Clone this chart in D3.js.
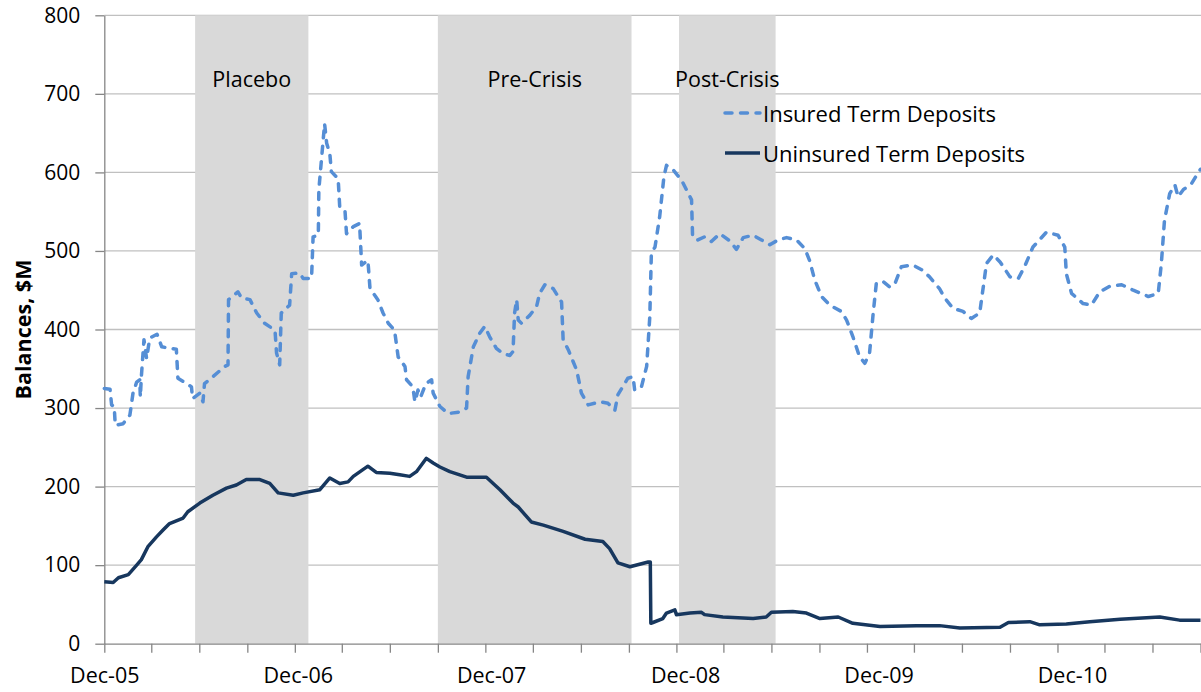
<!DOCTYPE html>
<html>
<head>
<meta charset="utf-8">
<script src="https://cdn.jsdelivr.net/npm/d3@7"></script>
<style>
  body { margin: 0; background: #fff; }
  svg { display: block; }
</style>
</head>
<body>
<svg id="chart" width="1201" height="692"></svg>
<script>
// ---- data ----
const insuredDates = [
  "2005-12-01","2005-12-12","2005-12-15","2005-12-20","2005-12-22","2006-01-06","2006-01-19","2006-01-25",
  "2006-02-01","2006-02-07","2006-02-08","2006-02-10","2006-02-15","2006-02-20","2006-02-26","2006-03-12",
  "2006-03-21","2006-04-05","2006-04-18","2006-04-21","2006-05-08","2006-05-17","2006-05-19","2006-06-02",
  "2006-06-08","2006-06-11","2006-06-27","2006-07-20","2006-07-26","2006-07-27","2006-08-14","2006-08-21",
  "2006-09-06","2006-09-19","2006-10-04","2006-10-24","2006-10-27","2006-11-02","2006-11-05","2006-11-21",
  "2006-11-25","2006-12-10","2006-12-17","2007-01-02","2007-01-05","2007-01-15","2007-01-16","2007-01-21",
  "2007-01-27","2007-01-31","2007-02-06","2007-02-09","2007-02-22","2007-02-25","2007-03-07","2007-03-10",
  "2007-03-23","2007-04-04","2007-04-08","2007-04-20","2007-04-24","2007-05-09","2007-05-19","2007-05-29",
  "2007-06-10","2007-06-17","2007-06-30","2007-07-03","2007-07-15","2007-07-19","2007-07-25","2007-07-30",
  "2007-08-09","2007-08-20","2007-08-23","2007-09-05","2007-09-21","2007-10-13","2007-10-26","2007-10-29",
  "2007-11-08","2007-11-20","2007-11-30","2007-12-09","2007-12-22","2008-01-04","2008-01-17","2008-01-23",
  "2008-01-26","2008-01-30","2008-02-02","2008-02-08","2008-02-24","2008-03-08","2008-03-14","2008-03-24",
  "2008-04-09","2008-04-25","2008-04-28","2008-05-08","2008-05-24","2008-06-02","2008-06-15","2008-07-07",
  "2008-07-23","2008-08-05","2008-08-11","2008-08-30","2008-09-09","2008-09-12","2008-09-25","2008-10-05",
  "2008-10-11","2008-10-14","2008-10-21","2008-10-30","2008-11-07","2008-11-12","2008-11-25","2008-12-11",
  "2008-12-30","2009-01-01","2009-01-11","2009-01-24","2009-02-06","2009-02-22","2009-03-13","2009-03-26",
  "2009-04-08","2009-04-27","2009-05-13","2009-05-29","2009-06-14","2009-06-30","2009-07-19","2009-08-04",
  "2009-08-13","2009-08-23","2009-09-05","2009-09-21","2009-10-13","2009-10-23","2009-11-04","2009-11-17",
  "2009-11-27","2009-12-06","2009-12-13","2009-12-19","2010-01-01","2010-01-14","2010-01-24","2010-02-05",
  "2010-02-27","2010-03-16","2010-03-31","2010-04-19","2010-04-29","2010-05-15","2010-06-03","2010-06-19",
  "2010-07-05","2010-07-18","2010-07-31","2010-08-13","2010-09-01","2010-09-17","2010-09-29","2010-10-15",
  "2010-11-10","2010-12-02","2010-12-15","2010-12-18","2010-12-28","2011-01-19","2011-02-04","2011-02-20",
  "2011-03-11","2011-04-03","2011-04-25","2011-05-24","2011-06-12","2011-06-18","2011-06-24","2011-07-04",
  "2011-07-14","2011-07-20","2011-07-30","2011-08-15","2011-08-27","2011-09-01"
];
const insuredValues = [
  325, 324, 304, 302, 278, 280, 291, 319,
  333, 336, 314, 340, 387, 363, 389, 394,
  378, 376, 375, 338, 331, 327, 312, 319,
  308, 331, 340, 353, 355, 438, 448, 440,
  438, 421, 408, 399, 370, 355, 421, 431,
  471, 472, 465, 465, 518, 520, 578, 616,
  662, 637, 624, 601, 592, 556, 552, 522,
  531, 535, 482, 488, 452, 438, 421, 408,
  399, 365, 353, 336, 327, 308, 323, 314,
  331, 336, 319, 302, 293, 295, 300, 340,
  378, 395, 404, 391, 376, 369, 367, 372,
  421, 438, 412, 408, 418, 429, 446, 457,
  452, 435, 387, 374, 348, 319, 304, 308,
  306, 297, 317, 338, 340, 323, 327, 353,
  416, 497, 505, 544, 594, 609, 603, 590,
  565, 518, 514, 518, 512, 522, 513, 502,
  517, 520, 514, 508, 514, 517, 514, 503,
  488, 463, 442, 431, 423, 412, 391, 365,
  357, 370, 421, 459, 461, 454, 459, 480,
  482, 476, 467, 452, 440, 427, 423, 414,
  421, 484, 495, 486, 467, 465, 480, 505,
  524, 520, 505, 471, 446, 433, 431, 448,
  455, 457, 450, 442, 446, 484, 539, 573,
  584, 569, 578, 586, 599, 604
];

const uninsuredDates = [
  "2005-12-01","2005-12-18","2005-12-28","2006-01-16","2006-02-01","2006-02-10","2006-02-23","2006-03-11",
  "2006-03-24","2006-04-05","2006-05-01","2006-05-10","2006-06-02","2006-06-27","2006-07-23","2006-08-11",
  "2006-08-30","2006-09-25","2006-10-14","2006-10-30","2006-11-28","2006-12-17","2007-01-18","2007-02-06",
  "2007-02-25","2007-03-13","2007-03-23","2007-04-20","2007-05-06","2007-06-01","2007-06-20","2007-07-09",
  "2007-07-22","2007-08-10","2007-08-23","2007-09-05","2007-09-24","2007-10-26","2007-12-03","2007-12-29",
  "2008-01-23","2008-02-02","2008-02-27","2008-03-21","2008-04-28","2008-06-09","2008-07-13","2008-07-26",
  "2008-08-11","2008-09-03","2008-10-08","2008-10-12","2008-10-13","2008-10-17","2008-11-05","2008-11-12",
  "2008-11-28","2008-12-01","2008-12-27","2009-01-18","2009-01-24","2009-02-28","2009-04-27","2009-05-22",
  "2009-06-01","2009-07-12","2009-08-07","2009-09-02","2009-10-07","2009-11-04","2009-12-26","2010-03-06",
  "2010-04-19","2010-05-28","2010-08-13","2010-08-29","2010-10-09","2010-10-28","2010-12-18","2011-02-01",
  "2011-03-31","2011-06-15","2011-07-23","2011-09-01"
];
const uninsuredValues = [
  79, 78, 84, 88, 100, 107, 124, 136,
  145, 153, 160, 168, 179, 189, 198, 202,
  209, 209, 204, 192, 189, 192, 196, 211,
  204, 206, 213, 226, 218, 217, 215, 213,
  219, 236, 230, 225, 219, 212, 212, 196,
  179, 174, 155, 151, 143, 133, 130, 121,
  103, 98, 104, 104, 26, 27, 32, 39,
  43, 37, 39, 40, 37, 34, 32, 34,
  40, 41, 39, 32, 34, 26, 22, 23,
  23, 20, 21, 27, 28, 24, 25, 28,
  31, 34, 30, 30
];

const periodNames = ["Placebo", "Pre-Crisis", "Post-Crisis"];
const periodStarts = ["2006-05-24", "2007-09-01", "2008-12-06"];
const periodEnds = ["2006-12-27", "2008-09-06", "2009-06-09"];

const seriesNames = ["Insured Term Deposits", "Uninsured Term Deposits"];
const yTicks = [0, 100, 200, 300, 400, 500, 600, 700, 800];
const xStart = "2005-12-01", xEnd = "2011-09-01";

// ---- layout ----
const W = 1201, H = 692;
const margin = { top: 15.3, right: 0.5, bottom: 48.3, left: 104.3 };
const font = "'Open Sans', 'Noto Sans', sans-serif";
const insuredColor = "#558ed5", uninsuredColor = "#17375e";

const parse = d3.timeParse("%Y-%m-%d");

const x = d3.scaleTime()
    .domain([parse(xStart), parse(xEnd)])
    .range([margin.left, W - margin.right]);

const y = d3.scaleLinear()
    .domain([0, 800])
    .range([H - margin.bottom, margin.top]);

const insured = insuredDates.map((d, i) => ({ date: parse(d), value: insuredValues[i] }));
const uninsured = uninsuredDates.map((d, i) => ({ date: parse(d), value: uninsuredValues[i] }));
const periods = periodNames.map((n, i) => ({ name: n, start: parse(periodStarts[i]), end: parse(periodEnds[i]) }));

const svg = d3.select("#chart");

// gridlines
svg.append("g")
    .selectAll("line")
    .data(yTicks.slice(1))
    .join("line")
    .attr("x1", margin.left)
    .attr("x2", W)
    .attr("y1", d => y(d))
    .attr("y2", d => y(d))
    .attr("stroke", "#c0c0c0")
    .attr("stroke-width", 1.3);

// shaded periods (drawn over the grid)
svg.append("g")
    .selectAll("rect")
    .data(periods)
    .join("rect")
    .attr("x", d => x(d.start))
    .attr("width", d => x(d.end) - x(d.start))
    .attr("y", y(800))
    .attr("height", y(0) - y(800))
    .attr("fill", "#d9d9d9");

// y axis
const yAxis = svg.append("g")
    .attr("transform", `translate(${margin.left},0)`)
    .call(d3.axisLeft(y).tickValues(yTicks).tickSize(9).tickSizeOuter(0).tickPadding(15));
yAxis.select(".domain").attr("stroke", "#868686").attr("stroke-width", 1.3);
yAxis.selectAll(".tick line").attr("stroke", "#868686").attr("stroke-width", 1.3);
yAxis.selectAll("text")
    .attr("font-family", font)
    .attr("font-size", 21)
    .attr("fill", "#000");

// x axis: quarterly ticks, labels on December
const xTicks = d3.timeMonth.range(parse(xStart), d3.timeDay.offset(parse(xEnd), 1), 3);
const fmt = d3.timeFormat("%b-%y");
const xAxis = svg.append("g")
    .attr("transform", `translate(0,${y(0)})`)
    .call(d3.axisBottom(x).tickValues(xTicks).tickSize(9).tickSizeOuter(0)
        .tickFormat(d => d.getMonth() === 11 ? fmt(d) : ""));
xAxis.select(".domain").attr("stroke", "#868686").attr("stroke-width", 1.3);
xAxis.selectAll(".tick line").attr("stroke", "#868686").attr("stroke-width", 1.3);
xAxis.selectAll("text")
    .attr("font-family", font)
    .attr("font-size", 21.5)
    .attr("fill", "#000")
    .attr("y", 24)
    .attr("dx", d => (d.getFullYear() - 2005) * 2.9);

// y axis title
svg.append("text")
    .attr("transform", `translate(22,${(y(0) + y(800)) / 2}) rotate(-90)`)
    .attr("text-anchor", "middle")
    .attr("dominant-baseline", "central")
    .attr("font-family", font)
    .attr("font-weight", "bold")
    .attr("font-size", 21.5)
    .text("Balances, $M");

// period labels
svg.append("g")
    .selectAll("text")
    .data(periods)
    .join("text")
    .attr("x", d => (x(d.start) + x(d.end)) / 2)
    .attr("y", 78)
    .attr("text-anchor", "middle")
    .attr("dominant-baseline", "central")
    .attr("font-family", font)
    .attr("font-size", 21.5)
    .attr("fill", "#000")
    .text(d => d.name);

// series
const line = d3.line()
    .x(d => x(d.date))
    .y(d => y(d.value));

svg.append("path")
    .datum(uninsured)
    .attr("fill", "none")
    .attr("stroke", uninsuredColor)
    .attr("stroke-width", 3.5)
    .attr("stroke-linejoin", "round")
    .attr("d", line);

svg.append("path")
    .datum(insured)
    .attr("fill", "none")
    .attr("stroke", insuredColor)
    .attr("stroke-width", 3.5)
    .attr("stroke-linejoin", "round")
    .attr("stroke-linecap", "round")
    .attr("stroke-dasharray", "7,8.5")
    .attr("d", line);

// legend
const legend = svg.append("g")
    .selectAll("g")
    .data(seriesNames)
    .join("g")
    .attr("transform", (d, i) => `translate(725,${113 + i * 40})`);

legend.append("line")
    .attr("x1", 0)
    .attr("x2", 35)
    .attr("stroke", (d, i) => i === 0 ? insuredColor : uninsuredColor)
    .attr("stroke-width", 3.5)
    .attr("stroke-linecap", (d, i) => i === 0 ? "round" : "butt")
    .attr("stroke-dasharray", (d, i) => i === 0 ? "7,8.5" : null);

legend.append("text")
    .attr("x", 38)
    .attr("dominant-baseline", "central")
    .attr("font-family", font)
    .attr("font-size", 22)
    .attr("fill", "#000")
    .text(d => d);
</script>
</body>
</html>
